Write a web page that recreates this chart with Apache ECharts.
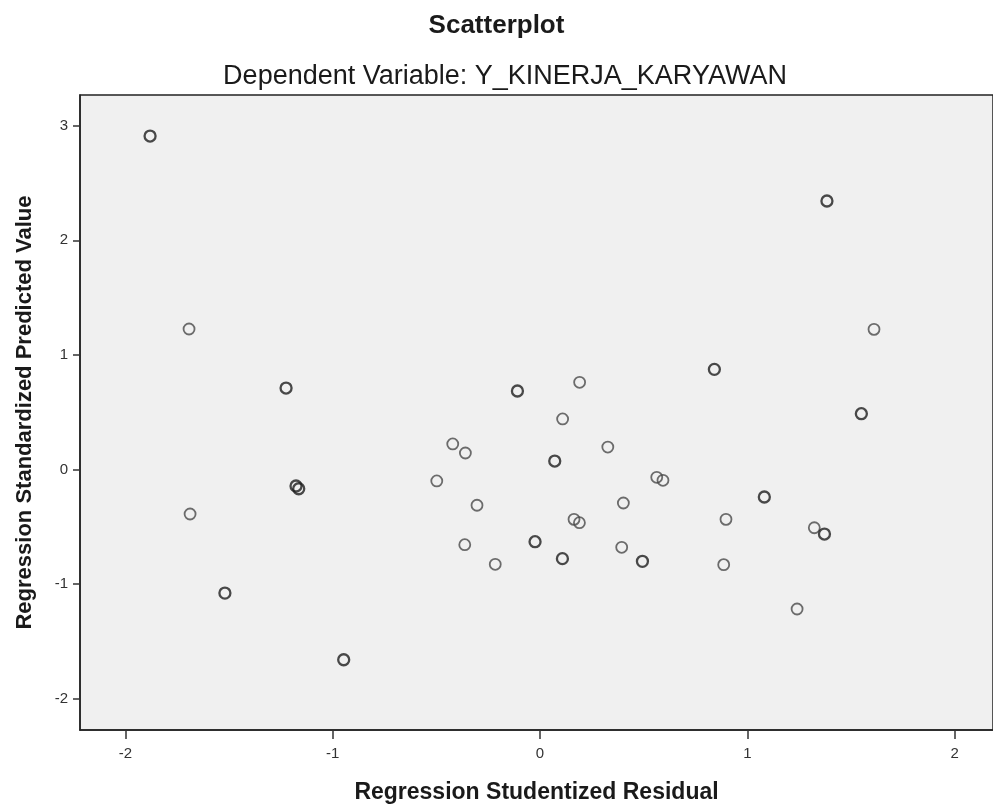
<!DOCTYPE html>
<html>
<head>
<meta charset="utf-8">
<title>Scatterplot</title>
<script src="https://cdn.jsdelivr.net/npm/echarts@6/dist/echarts.min.js"></script>
<style>
  html, body { margin: 0; padding: 0; background: #fff; }
  #chart { width: 993px; height: 809px; }
</style>
</head>
<body>
<div id="chart"></div>
<script>
// residual (x) , predicted value (y)
const puntosSimples = [
  [1.611, 1.223], [-1.693, 1.226], [0.191, 0.761], [0.109, 0.441],
  [-0.421, 0.223], [-0.360, 0.144], [0.327, 0.196], [-0.498, -0.100],
  [0.563, -0.068], [0.593, -0.094], [-1.688, -0.388], [-0.304, -0.312],
  [0.402, -0.292], [0.164, -0.435], [0.190, -0.464], [0.897, -0.435],
  [1.323, -0.508], [-0.363, -0.656], [0.394, -0.679], [-0.216, -0.827],
  [0.886, -0.830], [1.240, -1.217]
];
// the darker circles (overlapping cases)
const puntosRepetidos = [
  [-1.881, 2.910], [1.384, 2.343], [-1.225, 0.711], [-0.109, 0.685],
  [0.841, 0.874], [1.550, 0.487], [0.071, 0.074], [-1.177, -0.144],
  [-1.164, -0.168], [1.082, -0.240], [1.372, -0.563], [-0.024, -0.630],
  [0.108, -0.778], [0.494, -0.801], [-1.520, -1.078], [-0.947, -1.660]
];
const ticksX = [-2, -1, 0, 1, 2];
const ticksY = [-2, -1, 0, 1, 2, 3];

const fuente = "'Liberation Sans', Arial, sans-serif";

const chart = echarts.init(document.getElementById("chart"));
chart.setOption({
  animation: false,
  title: [
    {
      text: "Scatterplot",
      left: "center",
      top: 8,
      textStyle: { fontFamily: fuente, fontSize: 26, fontWeight: "bold", color: "#1a1a1a" }
    },
    {
      text: "Dependent Variable: Y_KINERJA_KARYAWAN",
      left: 500,
      top: 58,
      textAlign: "center",
      textStyle: { fontFamily: fuente, fontSize: 27, fontWeight: "normal", color: "#1a1a1a" }
    }
  ],
  grid: {
    left: 80, right: 0, top: 95, bottom: 79,
    show: true,
    backgroundColor: "#f0f0f0",
    borderColor: "#222",
    borderWidth: 1.5
  },
  xAxis: {
    type: "value",
    min: -2.219,
    max: 2.185,
    name: "Regression Studentized Residual",
    nameLocation: "middle",
    nameGap: 51,
    nameTextStyle: { fontFamily: fuente, fontSize: 23, fontWeight: "bold", color: "#1a1a1a" },
    splitLine: { show: false },
    axisLine: { show: true, onZero: false, lineStyle: { color: "#222", width: 1.5 } },
    axisTick: { show: true, length: 9, customValues: ticksX, lineStyle: { color: "#333", width: 1.5 } },
    axisLabel: { customValues: ticksX, margin: 16, fontFamily: fuente, fontSize: 15, color: "#333" }
  },
  yAxis: {
    type: "value",
    min: -2.273,
    max: 3.268,
    name: "Regression Standardized Predicted Value",
    nameLocation: "middle",
    nameGap: 44,
    nameTextStyle: { fontFamily: fuente, fontSize: 22, fontWeight: "bold", color: "#1a1a1a" },
    splitLine: { show: false },
    axisLine: { show: true, onZero: false, lineStyle: { color: "#222", width: 1.5 } },
    axisTick: { show: true, length: 7, customValues: ticksY, lineStyle: { color: "#333", width: 1.5 } },
    axisLabel: { customValues: ticksY, margin: 12, fontFamily: fuente, fontSize: 15, color: "#333" }
  },
  series: [
    {
      type: "scatter",
      data: puntosSimples,
      symbol: "circle",
      symbolSize: 11,
      itemStyle: { color: "rgba(0,0,0,0)", borderColor: "#4a4a4a", borderWidth: 1.8 }
    },
    {
      type: "scatter",
      data: puntosRepetidos,
      symbol: "circle",
      symbolSize: 11,
      itemStyle: { color: "rgba(0,0,0,0)", borderColor: "#1e1e1e", borderWidth: 2.3 }
    }
  ]
});
</script>
</body>
</html>
